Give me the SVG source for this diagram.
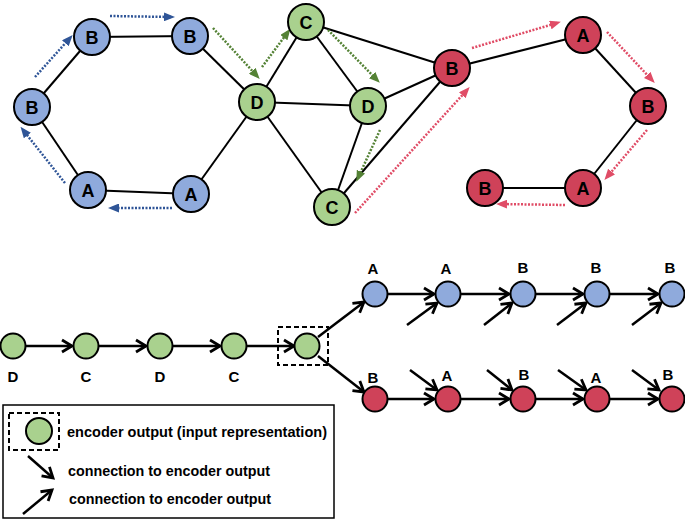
<svg xmlns="http://www.w3.org/2000/svg" width="685" height="521" viewBox="0 0 685 521">
<defs>
<style>
.e{stroke:#000;stroke-width:2;fill:none}
.nb{fill:#8FAADC;stroke:#000;stroke-width:2}
.ng{fill:#A9D18E;stroke:#000;stroke-width:2}
.nr{fill:#CF4259;stroke:#000;stroke-width:2}
.t{font-family:"Liberation Sans",Arial,sans-serif;font-weight:bold;fill:#000;text-anchor:middle}
.big{font-size:18px}
.sm{font-size:15px}
.db{stroke:#2F5597;stroke-width:2.5;stroke-dasharray:2 1.5;fill:none;marker-end:url(#mb)}
.dg{stroke:#548235;stroke-width:2.5;stroke-dasharray:2 1.5;fill:none;marker-end:url(#mg)}
.dr{stroke:#E04C66;stroke-width:2.5;stroke-dasharray:2 1.5;fill:none;marker-end:url(#mr)}
.a{stroke:#000;stroke-width:2.5;fill:none;marker-end:url(#ma)}
.box{fill:none;stroke:#000;stroke-width:2;stroke-dasharray:5 3}
.lt{font-family:"Liberation Sans",Arial,sans-serif;font-weight:bold;font-size:14px;fill:#000}
</style>
<marker id="mb" markerUnits="userSpaceOnUse" markerWidth="11" markerHeight="9" refX="7" refY="4.5" orient="auto"><path d="M0,0 L11,4.5 L0,9 z" fill="#2F5597"/></marker>
<marker id="mg" markerUnits="userSpaceOnUse" markerWidth="11" markerHeight="9" refX="7" refY="4.5" orient="auto"><path d="M0,0 L11,4.5 L0,9 z" fill="#548235"/></marker>
<marker id="mr" markerUnits="userSpaceOnUse" markerWidth="11" markerHeight="9" refX="7" refY="4.5" orient="auto"><path d="M0,0 L11,4.5 L0,9 z" fill="#E04C66"/></marker>
<marker id="ma" markerUnits="userSpaceOnUse" markerWidth="13" markerHeight="13" refX="11" refY="6.5" orient="auto" overflow="visible"><path d="M1,0.5 L11,6.5 L1,12.5" fill="none" stroke="#000" stroke-width="2.8" stroke-linejoin="miter"/></marker>
</defs>
<rect width="685" height="521" fill="#fff"/>

<g id="connectors">
<line class="e" x1="92" y1="37" x2="190" y2="36"/>
<line class="e" x1="92" y1="37" x2="32" y2="107"/>
<line class="e" x1="32" y1="107" x2="88" y2="190"/>
<line class="e" x1="88" y1="190" x2="191" y2="194"/>
<line class="e" x1="191" y1="194" x2="257" y2="102"/>
<line class="e" x1="190" y1="36" x2="257" y2="102"/>
<line class="e" x1="257" y1="102" x2="306" y2="22"/>
<line class="e" x1="257" y1="102" x2="368" y2="106"/>
<line class="e" x1="257" y1="102" x2="332" y2="207"/>
<line class="e" x1="306" y1="22" x2="368" y2="106"/>
<line class="e" x1="306" y1="22" x2="452" y2="68"/>
<line class="e" x1="368" y1="106" x2="332" y2="207"/>
<line class="e" x1="368" y1="106" x2="452" y2="68"/>
<line class="e" x1="332" y1="207" x2="452" y2="68"/>
<line class="e" x1="452" y1="68" x2="583" y2="35"/>
<line class="e" x1="583" y1="35" x2="648" y2="106"/>
<line class="e" x1="648" y1="106" x2="583" y2="188"/>
<line class="e" x1="583" y1="188" x2="485" y2="188"/>
<line class="db" x1="110" y1="16" x2="171" y2="17"/>
<line class="db" x1="35" y1="77" x2="70" y2="38"/>
<line class="db" x1="65" y1="183" x2="23" y2="130"/>
<line class="db" x1="172" y1="208" x2="112" y2="208"/>
<line class="dg" x1="213" y1="28" x2="257" y2="76"/>
<line class="dg" x1="262" y1="67" x2="288" y2="32"/>
<line class="dg" x1="328" y1="30" x2="377" y2="80"/>
<line class="dg" x1="380" y1="130" x2="358" y2="178"/>
<line class="dr" x1="355" y1="213" x2="467" y2="90"/>
<line class="dr" x1="472" y1="48" x2="557" y2="23"/>
<line class="dr" x1="607" y1="32" x2="652" y2="80"/>
<line class="dr" x1="647" y1="130" x2="607" y2="177"/>
<line class="dr" x1="565" y1="205" x2="500" y2="204"/>
<line class="a" x1="26" y1="346" x2="72" y2="346"/>
<line class="a" x1="99" y1="346" x2="146" y2="346"/>
<line class="a" x1="173" y1="346" x2="220" y2="346"/>
<line class="a" x1="247" y1="346" x2="294" y2="346"/>
<line class="a" x1="318" y1="337" x2="364" y2="302"/>
<line class="a" x1="318" y1="356" x2="364" y2="392"/>
<line class="a" x1="388" y1="294" x2="434" y2="294"/>
<line class="a" x1="461" y1="294" x2="509" y2="294"/>
<line class="a" x1="536" y1="294" x2="583" y2="294"/>
<line class="a" x1="610" y1="294" x2="658" y2="294"/>
<line class="a" x1="388" y1="399" x2="434" y2="399"/>
<line class="a" x1="461" y1="399" x2="509" y2="399"/>
<line class="a" x1="536" y1="399" x2="583" y2="399"/>
<line class="a" x1="610" y1="399" x2="658" y2="399"/>
<line class="a" x1="407" y1="325" x2="437" y2="303"/>
<line class="a" x1="484" y1="325" x2="512" y2="303"/>
<line class="a" x1="557" y1="325" x2="586" y2="303"/>
<line class="a" x1="632" y1="325" x2="661" y2="303"/>
<line class="a" x1="410" y1="370" x2="437" y2="390"/>
<line class="a" x1="487" y1="370" x2="512" y2="390"/>
<line class="a" x1="558" y1="370" x2="586" y2="390"/>
<line class="a" x1="632" y1="370" x2="659" y2="390"/>
</g>

<g id="n-b1"><circle class="nb" cx="92" cy="37" r="18"/><text class="t big" x="92" y="43.5">B</text></g>
<g id="n-b2"><circle class="nb" cx="190" cy="36" r="18"/><text class="t big" x="190" y="42.5">B</text></g>
<g id="n-b3"><circle class="nb" cx="32" cy="107" r="18"/><text class="t big" x="32" y="113.5">B</text></g>
<g id="n-a1"><circle class="nb" cx="88" cy="190" r="18"/><text class="t big" x="88" y="196.5">A</text></g>
<g id="n-a2"><circle class="nb" cx="191" cy="194" r="18"/><text class="t big" x="191" y="200.5">A</text></g>
<g id="n-d1"><circle class="ng" cx="257" cy="102" r="18"/><text class="t big" x="257" y="108.5">D</text></g>
<g id="n-c1"><circle class="ng" cx="306" cy="22" r="18"/><text class="t big" x="306" y="28.5">C</text></g>
<g id="n-d2"><circle class="ng" cx="368" cy="106" r="18"/><text class="t big" x="368" y="112.5">D</text></g>
<g id="n-c2"><circle class="ng" cx="332" cy="207" r="18"/><text class="t big" x="332" y="213.5">C</text></g>
<g id="n-rb1"><circle class="nr" cx="452" cy="68" r="18"/><text class="t big" x="452" y="74.5">B</text></g>
<g id="n-ra1"><circle class="nr" cx="583" cy="35" r="18"/><text class="t big" x="583" y="41.5">A</text></g>
<g id="n-rb2"><circle class="nr" cx="648" cy="106" r="18"/><text class="t big" x="648" y="112.5">B</text></g>
<g id="n-ra2"><circle class="nr" cx="583" cy="188" r="18"/><text class="t big" x="583" y="194.5">A</text></g>
<g id="n-rb3"><circle class="nr" cx="485" cy="188" r="18"/><text class="t big" x="485" y="194.5">B</text></g>

<g id="s1"><circle class="ng" cx="13" cy="346" r="12.5"/><text class="t sm" x="13" y="382">D</text></g>
<g id="s2"><circle class="ng" cx="86" cy="346" r="12.5"/><text class="t sm" x="86" y="382">C</text></g>
<g id="s3"><circle class="ng" cx="160" cy="346" r="12.5"/><text class="t sm" x="160" y="382">D</text></g>
<g id="s4"><circle class="ng" cx="234" cy="346" r="12.5"/><text class="t sm" x="234" y="382">C</text></g>
<g id="enc"><rect class="box" x="278" y="327" width="50" height="38"/><circle class="ng" cx="307" cy="346" r="12.5"/></g>
<g id="u1"><circle class="nb" cx="375" cy="294" r="12.5"/><text class="t sm" x="373" y="274">A</text></g>
<g id="u2"><circle class="nb" cx="448" cy="294" r="12.5"/><text class="t sm" x="446" y="274">A</text></g>
<g id="u3"><circle class="nb" cx="523" cy="294" r="12.5"/><text class="t sm" x="523" y="273">B</text></g>
<g id="u4"><circle class="nb" cx="597" cy="294" r="12.5"/><text class="t sm" x="596" y="273">B</text></g>
<g id="u5"><circle class="nb" cx="672" cy="294" r="12.5"/><text class="t sm" x="670" y="273">B</text></g>
<g id="l1"><circle class="nr" cx="375" cy="399" r="12.5"/><text class="t sm" x="373" y="383">B</text></g>
<g id="l2"><circle class="nr" cx="448" cy="399" r="12.5"/><text class="t sm" x="447" y="381">A</text></g>
<g id="l3"><circle class="nr" cx="523" cy="399" r="12.5"/><text class="t sm" x="524" y="380">B</text></g>
<g id="l4"><circle class="nr" cx="597" cy="399" r="12.5"/><text class="t sm" x="596" y="383">A</text></g>
<g id="l5"><circle class="nr" cx="672" cy="399" r="12.5"/><text class="t sm" x="668" y="380">B</text></g>

<g id="legend">
<rect x="3" y="405" width="331" height="113" fill="none" stroke="#000" stroke-width="1.5"/>
<rect class="box" x="9" y="413" width="50" height="37"/>
<circle class="ng" cx="39" cy="431" r="13"/>
<text class="lt" x="67" y="437" textLength="260" lengthAdjust="spacingAndGlyphs">encoder output (input representation)</text>
<line class="a" x1="28" y1="456" x2="53" y2="478"/>
<text class="lt" x="68" y="476" textLength="202" lengthAdjust="spacingAndGlyphs">connection to encoder output</text>
<line class="a" x1="23" y1="514" x2="52" y2="490"/>
<text class="lt" x="69" y="504" textLength="202" lengthAdjust="spacingAndGlyphs">connection to encoder output</text>
</g>
</svg>
